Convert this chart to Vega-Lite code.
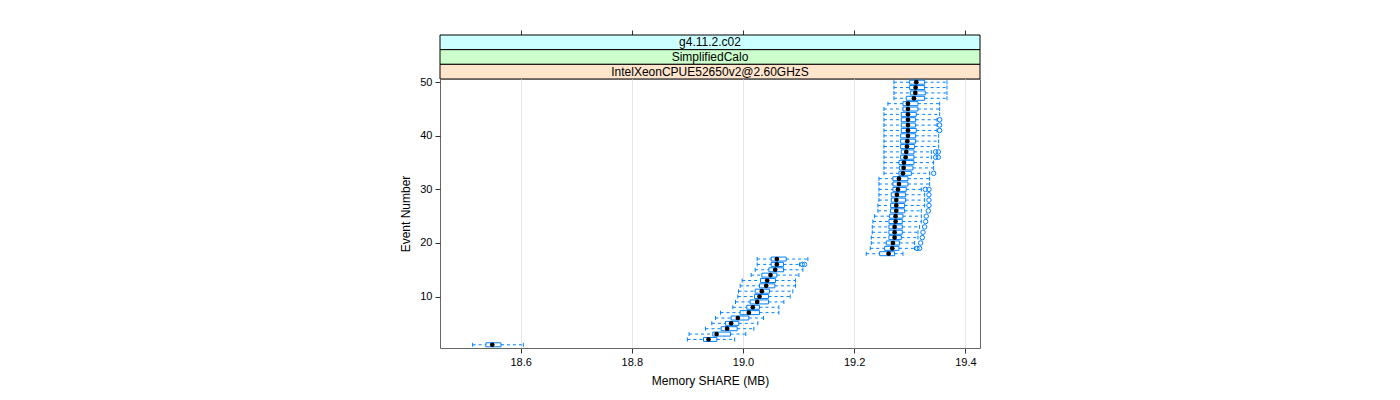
{
  "$schema": "https://vega.github.io/schema/vega-lite/v6.json",
  "padding": {"left": 399, "top": 29, "right": 5, "bottom": 5},
  "background": "white",
  "config": {"font": "Liberation Sans", "view": {"stroke": null}},
  "spacing": 0,
  "bounds": "flush",
  "datasets": {
    "boxes": [
      {"event": 1, "lo": 18.5137, "q1": 18.5375, "med": 18.549, "q3": 18.5647, "hi": 18.6049},
      {"event": 2, "lo": 18.900, "q1": 18.929, "med": 18.938, "q3": 18.953, "hi": 18.985},
      {"event": 3, "lo": 18.903, "q1": 18.9457, "med": 18.9525, "q3": 18.9775, "hi": 19.005},
      {"event": 4, "lo": 18.9325, "q1": 18.9607, "med": 18.9715, "q3": 18.9895, "hi": 19.0195},
      {"event": 5, "lo": 18.9439, "q1": 18.9685, "med": 18.9787, "q3": 18.9925, "hi": 19.0267},
      {"event": 6, "lo": 18.9505, "q1": 18.9787, "med": 18.9907, "q3": 19.0105, "hi": 19.0369},
      {"event": 7, "lo": 18.9595, "q1": 18.9949, "med": 19.0105, "q3": 19.0297, "hi": 19.0645},
      {"event": 8, "lo": 18.9817, "q1": 19.0069, "med": 19.0177, "q3": 19.0297, "hi": 19.0645},
      {"event": 9, "lo": 18.9865, "q1": 19.0129, "med": 19.0255, "q3": 19.0459, "hi": 19.0735},
      {"event": 10, "lo": 18.9907, "q1": 19.0207, "med": 19.0297, "q3": 19.0459, "hi": 19.0849},
      {"event": 11, "lo": 18.9919, "q1": 19.0219, "med": 19.0339, "q3": 19.0477, "hi": 19.0897},
      {"event": 12, "lo": 18.9949, "q1": 19.0297, "med": 19.0417, "q3": 19.0573, "hi": 19.0945},
      {"event": 13, "lo": 18.9985, "q1": 19.0315, "med": 19.0435, "q3": 19.0585, "hi": 19.0945},
      {"event": 14, "lo": 19.0147, "q1": 19.0339, "med": 19.0495, "q3": 19.0609, "hi": 19.1005},
      {"event": 15, "lo": 19.0219, "q1": 19.0465, "med": 19.0579, "q3": 19.0729, "hi": 19.1077},
      {"event": 16, "lo": 19.0255, "q1": 19.0507, "med": 19.0609, "q3": 19.0729, "hi": 19.1017},
      {"event": 17, "lo": 19.0255, "q1": 19.0507, "med": 19.0609, "q3": 19.0777, "hi": 19.1167},
      {"event": 18, "lo": 19.2217, "q1": 19.2457, "med": 19.2619, "q3": 19.2727, "hi": 19.2877},
      {"event": 19, "lo": 19.2289, "q1": 19.2547, "med": 19.2685, "q3": 19.2805, "hi": 19.3087},
      {"event": 20, "lo": 19.2307, "q1": 19.2577, "med": 19.2697, "q3": 19.2817, "hi": 19.3087},
      {"event": 21, "lo": 19.2307, "q1": 19.2625, "med": 19.2727, "q3": 19.2847, "hi": 19.3147},
      {"event": 22, "lo": 19.2325, "q1": 19.2625, "med": 19.2727, "q3": 19.2865, "hi": 19.3147},
      {"event": 23, "lo": 19.2325, "q1": 19.2625, "med": 19.2727, "q3": 19.2865, "hi": 19.3177},
      {"event": 24, "lo": 19.2337, "q1": 19.2625, "med": 19.2745, "q3": 19.2865, "hi": 19.3207},
      {"event": 25, "lo": 19.2367, "q1": 19.2637, "med": 19.2745, "q3": 19.2877, "hi": 19.3207},
      {"event": 26, "lo": 19.2427, "q1": 19.2655, "med": 19.2757, "q3": 19.2907, "hi": 19.3207},
      {"event": 27, "lo": 19.2427, "q1": 19.2655, "med": 19.2757, "q3": 19.2907, "hi": 19.3267},
      {"event": 28, "lo": 19.2445, "q1": 19.2667, "med": 19.2757, "q3": 19.2925, "hi": 19.3267},
      {"event": 29, "lo": 19.2445, "q1": 19.2667, "med": 19.2769, "q3": 19.2925, "hi": 19.3267},
      {"event": 30, "lo": 19.2445, "q1": 19.2697, "med": 19.2787, "q3": 19.2937, "hi": 19.3207},
      {"event": 31, "lo": 19.2445, "q1": 19.2697, "med": 19.2805, "q3": 19.2967, "hi": 19.3357},
      {"event": 32, "lo": 19.2445, "q1": 19.2697, "med": 19.2805, "q3": 19.2967, "hi": 19.3357},
      {"event": 33, "lo": 19.2535, "q1": 19.2805, "med": 19.2877, "q3": 19.3027, "hi": 19.3357},
      {"event": 34, "lo": 19.2535, "q1": 19.2817, "med": 19.2889, "q3": 19.3057, "hi": 19.3429},
      {"event": 35, "lo": 19.2535, "q1": 19.2805, "med": 19.2895, "q3": 19.3075, "hi": 19.3429},
      {"event": 36, "lo": 19.2535, "q1": 19.2835, "med": 19.2925, "q3": 19.3075, "hi": 19.3387},
      {"event": 37, "lo": 19.2535, "q1": 19.2847, "med": 19.2937, "q3": 19.3075, "hi": 19.3387},
      {"event": 38, "lo": 19.2535, "q1": 19.2835, "med": 19.2949, "q3": 19.3087, "hi": 19.3519},
      {"event": 39, "lo": 19.2535, "q1": 19.2835, "med": 19.2955, "q3": 19.3105, "hi": 19.3519},
      {"event": 40, "lo": 19.2535, "q1": 19.2835, "med": 19.2967, "q3": 19.3105, "hi": 19.3519},
      {"event": 41, "lo": 19.2535, "q1": 19.2847, "med": 19.2967, "q3": 19.3117, "hi": 19.349},
      {"event": 42, "lo": 19.2535, "q1": 19.2847, "med": 19.2967, "q3": 19.3105, "hi": 19.349},
      {"event": 43, "lo": 19.2535, "q1": 19.2847, "med": 19.2967, "q3": 19.3105, "hi": 19.349},
      {"event": 44, "lo": 19.2535, "q1": 19.2847, "med": 19.2967, "q3": 19.3117, "hi": 19.3537},
      {"event": 45, "lo": 19.2535, "q1": 19.2877, "med": 19.2967, "q3": 19.3147, "hi": 19.3537},
      {"event": 46, "lo": 19.2607, "q1": 19.2877, "med": 19.2967, "q3": 19.3147, "hi": 19.3537},
      {"event": 47, "lo": 19.2715, "q1": 19.2937, "med": 19.3075, "q3": 19.3267, "hi": 19.3669},
      {"event": 48, "lo": 19.2715, "q1": 19.3009, "med": 19.3099, "q3": 19.3279, "hi": 19.3669},
      {"event": 49, "lo": 19.2715, "q1": 19.2997, "med": 19.3105, "q3": 19.3267, "hi": 19.3669},
      {"event": 50, "lo": 19.2715, "q1": 19.2997, "med": 19.3117, "q3": 19.3267, "hi": 19.3669}
    ],
    "outliers": [
      {"event": 16, "value": 19.1065}, {"event": 16, "value": 19.1107},
      {"event": 19, "value": 19.3129}, {"event": 19, "value": 19.3177},
      {"event": 20, "value": 19.3195},
      {"event": 21, "value": 19.3225},
      {"event": 22, "value": 19.3237},
      {"event": 23, "value": 19.3267},
      {"event": 24, "value": 19.3285},
      {"event": 25, "value": 19.3297},
      {"event": 26, "value": 19.3333},
      {"event": 27, "value": 19.3345},
      {"event": 28, "value": 19.3345},
      {"event": 29, "value": 19.3345},
      {"event": 30, "value": 19.3279}, {"event": 30, "value": 19.3345},
      {"event": 33, "value": 19.3429},
      {"event": 36, "value": 19.3465}, {"event": 36, "value": 19.3513},
      {"event": 37, "value": 19.3465}, {"event": 37, "value": 19.3513},
      {"event": 41, "value": 19.3537},
      {"event": 42, "value": 19.3537},
      {"event": 43, "value": 19.3537}
    ],
    "strips": [
      {"label": "g4.11.2.c02"},
      {"label": "SimplifiedCalo"},
      {"label": "IntelXeonCPUE52650v2@2.60GHzS"}
    ]
  },
  "vconcat": [
    {
      "width": 540,
      "height": 44,
      "data": {"name": "strips"},
      "view": {"stroke": null},
      "encoding": {
        "y": {"field": "label", "type": "nominal", "sort": ["g4.11.2.c02", "SimplifiedCalo", "IntelXeonCPUE52650v2@2.60GHzS"], "scale": {"paddingInner": 0, "paddingOuter": 0}, "axis": null}
      },
      "layer": [
        {
          "mark": {"type": "rect", "stroke": "black", "strokeWidth": 1},
          "encoding": {
            "x": {"value": 0},
            "x2": {"value": "width"},
            "fill": {"field": "label", "type": "nominal", "scale": {"domain": ["g4.11.2.c02", "SimplifiedCalo", "IntelXeonCPUE52650v2@2.60GHzS"], "range": ["#ccffff", "#ccffcc", "#ffe5cc"]}, "legend": null}
          }
        },
        {
          "mark": {"type": "text", "fontSize": 12, "color": "black"},
          "encoding": {
            "x": {"datum": 18.9407, "type": "quantitative", "scale": {"domain": [18.455, 19.4263], "nice": false, "zero": false}, "axis": {"orient": "top", "values": [18.6, 18.8, 19.0, 19.2, 19.4], "labels": false, "domain": false, "grid": false, "ticks": true, "tickSize": 5, "tickColor": "#333", "title": null}},
            "text": {"field": "label"}
          }
        }
      ]
    },
    {
      "width": 540,
      "height": 269,
      "view": {"stroke": "#666", "strokeWidth": 1},
      "encoding": {
        "y": {"field": "event", "type": "quantitative", "scale": {"domain": [0.4, 50.6], "nice": false, "zero": false, "padding": 0}, "axis": {"values": [10, 20, 30, 40, 50], "grid": false, "tickSize": 5, "tickColor": "#333", "domain": false, "labelFontSize": 11, "labelColor": "black", "labelPadding": 3, "title": "Event Number", "titleFontSize": 12, "titleFontWeight": "normal", "titleColor": "black", "titlePadding": 7}}
      },
      "layer": [
        {
          "data": {"name": "boxes"},
          "mark": {"type": "rule", "color": "#0080ff", "strokeDash": [3, 3], "strokeWidth": 1},
          "encoding": {
            "x": {"field": "lo", "type": "quantitative", "title": "Memory SHARE (MB)", "scale": {"domain": [18.455, 19.4263], "nice": false, "zero": false, "padding": 0}, "axis": {"values": [18.6, 18.8, 19.0, 19.2, 19.4], "format": ".1f", "grid": true, "gridColor": "#e6e6e6", "tickSize": 5, "tickColor": "#333", "domain": false, "labelFontSize": 11, "labelColor": "black", "labelPadding": 3, "titleFontSize": 12, "titleFontWeight": "normal", "titleColor": "black", "titlePadding": 8}},
            "x2": {"field": "q1"}
          }
        },
        {
          "data": {"name": "boxes"},
          "mark": {"type": "rule", "color": "#0080ff", "strokeDash": [3, 3], "strokeWidth": 1},
          "encoding": {
            "x": {"field": "q3", "type": "quantitative", "title": "Memory SHARE (MB)"},
            "x2": {"field": "hi"}
          }
        },
        {
          "data": {"name": "boxes"},
          "mark": {"type": "tick", "orient": "vertical", "size": 4, "thickness": 1, "color": "#0080ff", "opacity": 1},
          "encoding": {
            "x": {"field": "lo", "type": "quantitative", "title": "Memory SHARE (MB)"}
          }
        },
        {
          "data": {"name": "boxes"},
          "mark": {"type": "tick", "orient": "vertical", "size": 4, "thickness": 1, "color": "#0080ff", "opacity": 1},
          "encoding": {
            "x": {"field": "hi", "type": "quantitative", "title": "Memory SHARE (MB)"}
          }
        },
        {
          "data": {"name": "boxes"},
          "mark": {"type": "bar", "orient": "horizontal", "size": 4, "fill": "white", "fillOpacity": 0, "stroke": "#0080ff", "strokeWidth": 1},
          "encoding": {
            "x": {"field": "q1", "type": "quantitative", "title": "Memory SHARE (MB)"},
            "x2": {"field": "q3"}
          }
        },
        {
          "data": {"name": "boxes"},
          "mark": {"type": "point", "shape": "circle", "filled": true, "color": "black", "size": 22, "opacity": 1},
          "encoding": {
            "x": {"field": "med", "type": "quantitative", "title": "Memory SHARE (MB)"}
          }
        },
        {
          "data": {"name": "outliers"},
          "mark": {"type": "point", "shape": "circle", "filled": false, "color": "#0080ff", "size": 20, "strokeWidth": 1, "opacity": 1},
          "encoding": {
            "x": {"field": "value", "type": "quantitative", "title": "Memory SHARE (MB)"}
          }
        }
      ]
    }
  ]
}
